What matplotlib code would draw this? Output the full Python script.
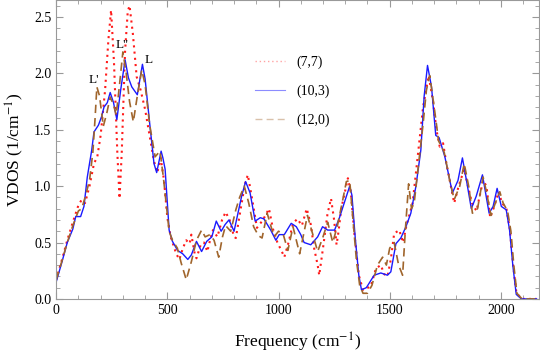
import matplotlib
matplotlib.use('Agg')

import numpy as np
import matplotlib.pyplot as plt
from matplotlib.ticker import MultipleLocator
from matplotlib.lines import Line2D

# (7,7) tube - red dotted
freq_77 = [0, 25, 50, 75, 100, 115, 130, 150, 170, 185, 200, 220, 235, 247, 260, 275, 285, 295,
           310, 322, 330, 345, 362, 380, 400, 420, 440, 455, 470, 485, 500, 515, 540, 554, 570,
           585, 600, 608, 623, 631, 650, 665, 680, 692, 705, 725, 746, 762, 780, 800, 808, 830,
           849, 862, 880, 903, 930, 957, 975, 995, 1015, 1026, 1045, 1065, 1085, 1105, 1127,
           1145, 1160, 1176, 1183, 1200, 1220, 1236, 1250, 1261, 1270, 1282, 1312, 1325, 1340,
           1361, 1380, 1415, 1438, 1460, 1475, 1490, 1505, 1520, 1543, 1560, 1575, 1603, 1628,
           1650, 1675, 1695, 1710, 1725, 1740, 1755, 1775, 1790, 1810, 1835, 1852, 1870, 1890,
           1920, 1935, 1952, 1970, 1990, 2005, 2025, 2040, 2055, 2070, 2095, 2160]
vdos_77 = [0.17, 0.34, 0.52, 0.68, 0.83, 0.88, 0.85, 1.00, 1.20, 1.26, 1.45, 1.85, 2.30, 2.56, 2.10,
           1.30, 0.89, 1.30, 2.20, 2.55, 2.60, 2.35, 1.97, 1.85, 1.68, 1.45, 1.22, 1.12, 1.25, 1.05,
           0.72, 0.55, 0.40, 0.35, 0.45, 0.52, 0.49, 0.57, 0.40, 0.36, 0.48, 0.50, 0.42, 0.52, 0.61,
           0.55, 0.70, 0.77, 0.70, 0.55, 0.54, 0.80, 1.02, 1.10, 0.90, 0.63, 0.70, 0.80, 0.62, 0.50,
           0.42, 0.37, 0.50, 0.67, 0.71, 0.65, 0.80, 0.66, 0.45, 0.30, 0.21, 0.45, 0.75, 0.89, 0.70,
           0.48, 0.60, 0.80, 1.07, 0.95, 0.60, 0.21, 0.08, 0.11, 0.27, 0.30, 0.22, 0.20, 0.35, 0.58,
           0.61, 0.50, 0.65, 0.85, 1.30, 1.70, 1.98, 1.75, 1.50, 1.35, 1.38, 1.20, 1.00, 0.85, 1.00,
           1.15, 1.00, 0.85, 0.78, 1.05, 1.00, 0.72, 0.82, 0.95, 0.85, 0.80, 0.62, 0.30, 0.05, 0.0,
           0.0]

# (10,3) tube - blue solid
freq_103 = [0, 25, 50, 75, 88, 110, 125, 140, 160, 170, 190, 205, 215, 230, 243, 258, 273, 290, 310,
            325, 340, 365, 388, 400, 422, 440, 452, 472, 480, 490, 508, 523, 546, 569, 592, 608,
            631, 654, 677, 700, 720, 742, 760, 777, 800, 811, 834, 852, 872, 895, 918, 934, 965,
            988, 1003, 1026, 1057, 1080, 1100, 1115, 1145, 1176, 1198, 1221, 1252, 1274, 1297,
            1320, 1330, 1345, 1361, 1373, 1395, 1430, 1460, 1490, 1505, 1528, 1550, 1573, 1595,
            1618, 1640, 1655, 1670, 1688, 1707, 1722, 1748, 1782, 1807, 1827, 1847, 1867, 1889,
            1917, 1947, 1965, 1983, 2002, 2024, 2039, 2054, 2069, 2092, 2160]
vdos_103 = [0.15, 0.32, 0.50, 0.62, 0.73, 0.73, 0.82, 1.08, 1.32, 1.48, 1.54, 1.62, 1.70, 1.74, 1.83,
            1.74, 1.59, 1.85, 2.12, 1.96, 1.88, 1.81, 2.08, 1.95, 1.53, 1.20, 1.12, 1.31, 1.25, 1.15,
            0.61, 0.51, 0.43, 0.40, 0.35, 0.39, 0.51, 0.42, 0.51, 0.55, 0.69, 0.60, 0.66, 0.70, 0.60,
            0.70, 0.91, 1.04, 0.94, 0.69, 0.72, 0.71, 0.61, 0.52, 0.57, 0.57, 0.67, 0.64, 0.57, 0.50,
            0.48, 0.55, 0.64, 0.61, 0.61, 0.72, 0.86, 1.00, 0.92, 0.54, 0.21, 0.08, 0.10, 0.21, 0.23,
            0.21, 0.24, 0.49, 0.54, 0.64, 0.76, 1.00, 1.32, 1.80, 2.07, 1.88, 1.45, 1.43, 1.26, 0.94,
            1.05, 1.25, 1.03, 0.80, 0.91, 1.10, 0.76, 0.82, 0.98, 0.82, 0.79, 0.61, 0.29, 0.04, 0.0,
            0.0]

# (12,0) tube - brown dashed
freq_120 = [0, 25, 50, 75, 100, 115, 130, 150, 165, 175, 183, 195, 212, 228, 243, 258, 270, 285, 300,
            315, 330, 347, 365, 385, 400, 420, 445, 467, 482, 500, 508, 523, 545, 562, 585, 608,
            631, 654, 670, 692, 710, 731, 748, 762, 785, 808, 825, 846, 866, 888, 910, 926, 949,
            965, 980, 1000, 1020, 1042, 1065, 1085, 1095, 1130, 1150, 1176, 1200, 1221, 1244, 1265,
            1290, 1305, 1320, 1335, 1350, 1365, 1380, 1400, 1420, 1445, 1468, 1485, 1500, 1520,
            1540, 1558, 1570, 1585, 1598, 1610, 1630, 1650, 1665, 1680, 1700, 1720, 1745, 1770,
            1790, 1815, 1835, 1855, 1872, 1895, 1920, 1935, 1955, 1975, 1995, 2010, 2030, 2045,
            2058, 2072, 2095, 2160]
vdos_120 = [0.17, 0.33, 0.50, 0.65, 0.78, 0.80, 0.90, 1.05, 1.30, 1.60, 1.88, 1.80, 1.53, 1.65, 1.79,
            1.72, 1.63, 1.90, 2.19, 2.00, 1.75, 1.57, 1.80, 2.03, 1.90, 1.55, 1.26, 1.31, 1.08, 0.75,
            0.60, 0.52, 0.45, 0.32, 0.17, 0.33, 0.52, 0.61, 0.55, 0.57, 0.52, 0.37, 0.55, 0.65, 0.60,
            0.79, 0.90, 1.00, 0.85, 0.64, 0.56, 0.54, 0.76, 0.65, 0.55, 0.60, 0.58, 0.43, 0.64, 0.48,
            0.40, 0.74, 0.60, 0.42, 0.55, 0.68, 0.50, 0.65, 0.89, 1.04, 1.05, 0.70, 0.35, 0.12, 0.05,
            0.05, 0.12, 0.30, 0.37, 0.30, 0.45, 0.50, 0.30, 0.21, 0.60, 1.02, 0.80, 0.85, 1.20, 1.55,
            1.85, 1.98, 1.70, 1.40, 1.30, 1.05, 0.88, 1.00, 1.20, 1.00, 0.76, 0.80, 1.08, 0.95, 0.74,
            0.85, 0.95, 0.85, 0.78, 0.60, 0.30, 0.05, 0.0, 0.0]

labels = ['(7,7)', '(10,3)', '(12,0)']
peak_names = ["L'", "L''", "L"]
peak_pos = [(171, 1.94), (296, 2.25), (418, 2.12)]

red = '#ff1a1a'
blue = '#1a1aff'
brown = '#a0652c'

plt.rcParams['font.family'] = ['Liberation Serif', 'DejaVu Serif']
plt.rcParams['mathtext.fontset'] = 'stix'

fig = plt.figure(figsize=(5.4, 3.55), dpi=100)
ax = fig.add_axes([0.104, 0.158, 0.894, 0.842])

ax.plot(freq_77, vdos_77, color=red, linestyle=(0, (1, 2)), linewidth=1.5)
ax.plot(freq_103, vdos_103, color=blue, linestyle='-', linewidth=1.0)
ax.plot(freq_120, vdos_120, color=brown, linestyle=(0, (5, 3)), linewidth=1.2)

for name, (fx, fy) in zip(peak_names, peak_pos):
    ax.text(fx, fy, name, fontsize=9.5, ha='center', va='center')

handles = [Line2D([], [], color=red, linestyle=(0, (1, 2)), linewidth=1.0, alpha=0.4),
           Line2D([], [], color=blue, linestyle='-', linewidth=0.8, alpha=0.5),
           Line2D([], [], color=brown, linestyle=(0, (5, 3)), linewidth=1.0, alpha=0.4)]
ax.legend(handles, labels, loc='upper left', bbox_to_anchor=(0.385, 0.855), frameon=False,
          fontsize=10, handlelength=2.2, labelspacing=1.1, handletextpad=0.8)

ax.set_xlim(0, 2171)
ax.set_ylim(0, 2.65)
ax.xaxis.set_major_locator(MultipleLocator(500))
ax.xaxis.set_minor_locator(MultipleLocator(100))
ax.yaxis.set_major_locator(MultipleLocator(0.5))
ax.yaxis.set_minor_locator(MultipleLocator(0.1))
ax.yaxis.set_major_formatter(plt.FuncFormatter(lambda v, p: f'{v:.1f}'))
ax.tick_params(which='both', direction='in', top=True, right=True, color='#999999',
               labelsize=10)
ax.tick_params(which='major', length=5)
ax.tick_params(which='minor', length=3)
for s in ax.spines.values():
    s.set_color('#999999')

ax.set_xlabel('Frequency (cm$^{-1}$)', fontsize=12.5, labelpad=10)
ax.set_ylabel('VDOS (1/cm$^{-1}$)', fontsize=12.5, labelpad=6)

fig.savefig('out.png', dpi=100)
